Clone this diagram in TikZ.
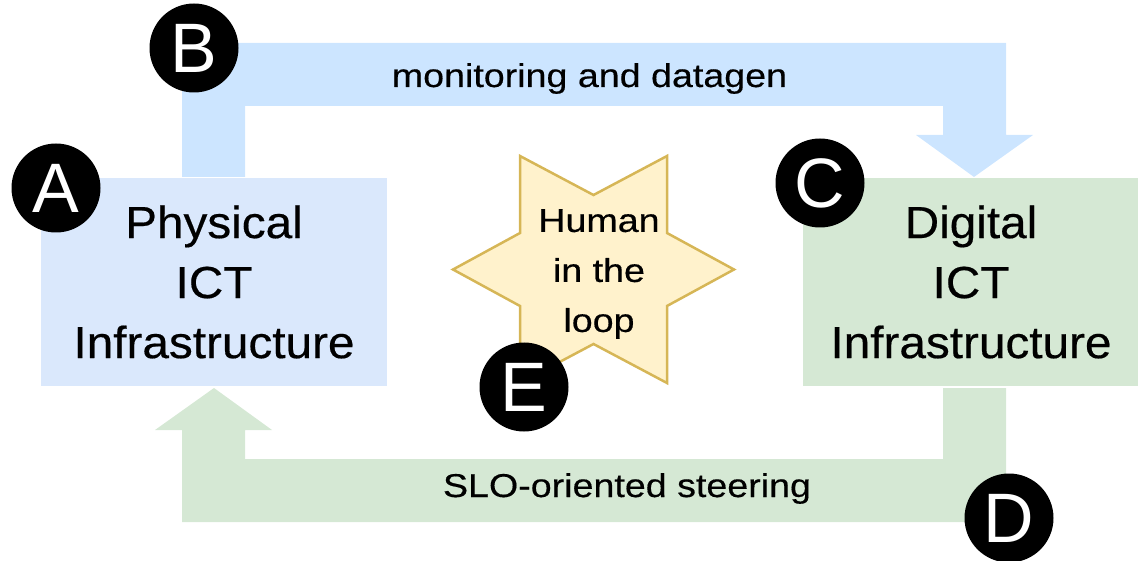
\documentclass[tikz,border=0pt]{standalone}
\usepackage{fontspec}
\setmainfont{Liberation Sans}
\newfontfamily\boxfont[FakeStretch=1.06, FakeBold=0.4]{Liberation Sans}
\newfontfamily\labelfont[FakeStretch=1.14, FakeBold=0.4]{Liberation Sans}
\newfontfamily\badgefont{Liberation Sans}
\definecolor{physfill}{HTML}{DAE8FC}
\definecolor{monfill}{HTML}{CCE5FF}
\definecolor{digfill}{HTML}{D5E8D4}
\definecolor{starfill}{HTML}{FFF2CC}
\definecolor{starline}{HTML}{D6B656}
\tikzset{
  infra/.style={rectangle, inner sep=0pt, align=center,
    font=\boxfont\fontsize{45}{60}\selectfont},
  flowlabel/.style={anchor=base, inner sep=0pt,
    font=\labelfont\fontsize{33}{36}\selectfont},
  badge/.style={circle, fill=black, text=white, inner sep=0pt,
    minimum size=89pt, font=\badgefont\fontsize{70}{70}\selectfont},
  hitltext/.style={align=center, inner sep=0pt,
    font=\labelfont\fontsize{33}{50}\selectfont}
}
\begin{document}
\begin{tikzpicture}[x=1pt, y=-1pt]
\useasboundingbox (0,0) rectangle (1138,561);

% monitoring flow: physical -> digital
\fill[monfill] (182,177) -- (182,43) -- (1006,43) -- (1006,135) -- (1033,135)
  -- (974,177) -- (916,135) -- (943,135) -- (943,106) -- (245,106)
  -- (245,177) -- cycle;
% steering flow: digital -> physical
\fill[digfill] (1006,388) -- (1006,522) -- (182,522) -- (182,430) -- (155,430)
  -- (214,388) -- (272,430) -- (245,430) -- (245,459) -- (943,459)
  -- (943,388) -- cycle;

% the two infrastructures
\node[infra, fill=physfill, minimum width=346pt, minimum height=208pt]
  (phys) at (214,282) {Physical\\ICT\\Infrastructure};
\node[infra, fill=digfill, minimum width=336pt, minimum height=208pt]
  (dig) at (971,282) {Digital\\ICT\\Infrastructure};

% six-pointed star for the human in the loop
\filldraw[fill=starfill, draw=starline, line width=2.5pt, line join=miter]
  (734,269.5) -- (667,233) -- (667,156) -- (593.5,195) -- (520,156)
  -- (520,233) -- (453,269.5) -- (520,306) -- (520,383) -- (593.5,344)
  -- (667,383) -- (667,306) -- cycle;
\node[hitltext] (hitl) at (599,274) {Human\\in the\\loop};

% flow labels
\node[flowlabel] (mon) at (589.5,87) {monitoring and datagen};
\node[flowlabel] (steer) at (627,497) {SLO-oriented steering};

% lettered badges
\node[badge] (badgeA) at (56,188) {A};
\node[badge] (badgeB) at (194,48) {B};
\node[badge] (badgeC) at (820,183) {C};
\node[badge] (badgeD) at (1009,518) {D};
\node[badge] (badgeE) at (524,387) {E};
\end{tikzpicture}
\end{document}
